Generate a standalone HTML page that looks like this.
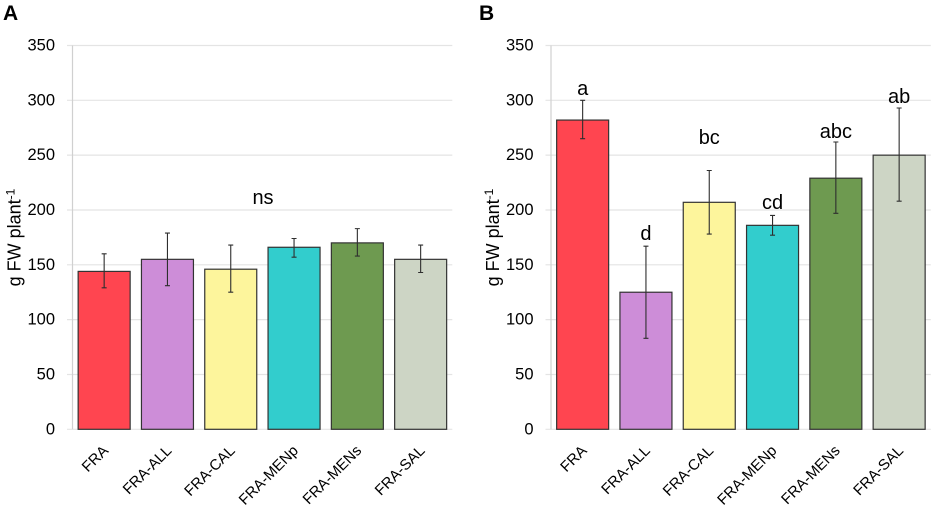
<!DOCTYPE html>
<html lang="en">
<head>
<meta charset="utf-8">
<title>Fresh weight per plant</title>
<style>
html,body{margin:0;padding:0;background:#fff;}
svg{display:block;font-family:"Liberation Sans",sans-serif;}
</style>
</head>
<body>
<svg id="figure" width="935" height="513" viewBox="0 0 935 513" xmlns="http://www.w3.org/2000/svg"></svg>
<script>
const categories = ['FRA', 'FRA-ALL', 'FRA-CAL', 'FRA-MENp', 'FRA-MENs', 'FRA-SAL'];
const yTicks = [0, 50, 100, 150, 200, 250, 300, 350];
const barColors = ['#ff4550', '#cd8dd8', '#fdf59c', '#32cdcd', '#6e9a50', '#cdd5c5'];
const valuesA = [144, 155, 146, 166, 170, 155];
const upperA = [160, 179, 168, 174, 183, 168];
const lowerA = [129, 131, 125, 157, 158, 143];
const valuesB = [282, 125, 207, 186, 229, 250];
const upperB = [300, 167, 236, 195, 262, 293];
const lowerB = [265, 83, 178, 177, 197, 208];
const lettersB = ['a', 'd', 'bc', 'cd', 'abc', 'ab'];
const lettersBAt = [305, 172.6, 260, 201, 265.6, 297.5];

const svg = document.getElementById('figure');
const NS = 'http://www.w3.org/2000/svg';
const yTop = 45.5, yBottom = 429.3, yMax = 350, catWidth = 63.3, barWidth = 52;

function y(v) { return yBottom - (v / yMax) * (yBottom - yTop); }

function add(parent, tag, attrs, text) {
  const el = document.createElementNS(NS, tag);
  for (const k in attrs) el.setAttribute(k, attrs[k]);
  if (text !== undefined) el.textContent = text;
  parent.appendChild(el);
  return el;
}

function drawPanel(id, axisX, panelLetter, letterX, values, upper, lower) {
  const g = add(svg, 'g', {});
  
  
  const x = i => axisX + catWidth * (i + 0.5);
  const right = axisX + catWidth * categories.length;

  const title = add(g, 'text', {x: letterX, y: 20, 'font-size': 21, 'font-weight': 'bold', fill: '#000'}, panelLetter);
  
  

  yTicks.forEach(t => {
    const grid = add(g, 'line', {x1: axisX - 5.5, x2: right, y1: y(t), y2: y(t), stroke: '#e4e4e4', 'stroke-width': 1.2});
    
    
    const label = add(g, 'text', {x: axisX - 17.5, y: y(t) + 5, 'font-size': 16.5, 'text-anchor': 'end', fill: '#000'}, String(t));
    
    
  });

  const axis = add(g, 'line', {x1: axisX, x2: axisX, y1: yTop, y2: yBottom, stroke: '#d0d0d0', 'stroke-width': 1.2});
  
  

  const yTitleX = axisX - 52;
  const yTitle = add(g, 'text', {transform: 'translate(' + yTitleX + ',237.5) rotate(-90)', 'font-size': 18, 'text-anchor': 'middle', fill: '#000'});
  
  
  add(yTitle, 'tspan', {}, 'g FW plant');
  add(yTitle, 'tspan', {dy: -6, 'font-size': 12}, '-1');

  categories.forEach((c, i) => {
    const bar = add(g, 'rect', {x: x(i) - barWidth / 2, y: y(values[i]), width: barWidth, height: y(0) - y(values[i]), fill: barColors[i], stroke: '#333', 'stroke-width': 1.2});
    
    

    const err = add(g, 'path', {d: 'M' + x(i) + ' ' + y(upper[i]) + 'V' + y(lower[i]) + 'M' + (x(i) - 2.5) + ' ' + y(upper[i]) + 'h5M' + (x(i) - 2.5) + ' ' + y(lower[i]) + 'h5', fill: 'none', stroke: '#2e2e2e', 'stroke-width': 1.1});
    
    

    const tx = x(i) + 5, ty = 451.5;
    const label = add(g, 'text', {transform: 'translate(' + tx + ',' + ty + ') rotate(-45)', 'font-size': 15, 'text-anchor': 'end', fill: '#000'}, c);
    
    
  });
  return {g, x};
}

const panelA = drawPanel('a', 72.5, 'A', 3, valuesA, upperA, lowerA);
const nsLabel = add(panelA.g, 'text', {x: 263, y: 204, 'font-size': 20, 'text-anchor': 'middle', fill: '#000'}, 'ns');



const panelB = drawPanel('b', 551, 'B', 479, valuesB, upperB, lowerB);
lettersB.forEach((s, i) => {
  const t = add(panelB.g, 'text', {x: panelB.x(i), y: y(lettersBAt[i]), 'font-size': 20, 'text-anchor': 'middle', fill: '#000'}, s);
  
  
});
</script>
</body>
</html>
